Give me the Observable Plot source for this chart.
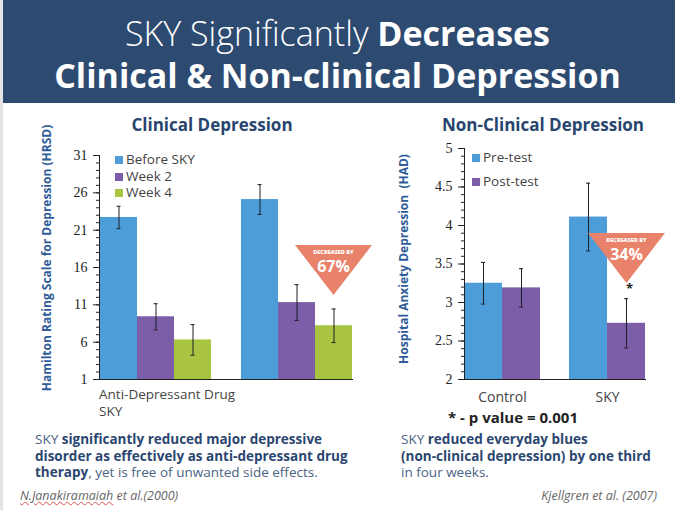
<!DOCTYPE html>
<html><head><meta charset="utf-8">
<script src="https://cdn.jsdelivr.net/npm/d3@7"></script>
<script src="https://cdn.jsdelivr.net/npm/@observablehq/plot@0.6"></script>
<style>
body{margin:0;background:#fff;}
#page{position:relative;width:675px;height:510px;overflow:hidden;background:#fff;font-family:"Open Sans",sans-serif;border-left:3px solid #e4e4e4;box-sizing:border-box;}
#header{position:absolute;left:-3px;top:0;width:675px;height:103px;background:#2d4a71;color:#fff;}
.abs{position:absolute;white-space:nowrap;}
.hl{left:0;width:675px;text-align:center;font-size:34px;line-height:42px;}
.ctitle{font-size:17px;font-weight:700;color:#28456f;text-align:center;width:300px;line-height:22px;}
.leg{font-size:13.5px;color:#444;line-height:16px;}
.sw{display:inline-block;width:8px;height:8px;margin-right:3px;vertical-align:0px;}
.ytitle{font-size:12px;font-weight:700;color:#2e5c99;width:300px;text-align:center;line-height:14px;transform:rotate(-90deg);}
.cat{font-size:13.5px;color:#444;line-height:17px;}
.note{font-size:13.5px;line-height:16.5px;color:#4a6283;}
.note b{color:#2b4670;font-weight:700;}
.cite{font-size:12.5px;font-style:italic;color:#666;line-height:14px;}
.tri{position:absolute;width:77px;height:50px;background:#e9826b;clip-path:polygon(0 0,100% 0,50% 100%);}
.tri .s{position:absolute;left:0;width:77px;text-align:center;color:#fff;font-weight:800;font-size:5.5px;line-height:6px;}
.tri .p{position:absolute;left:0;width:77px;text-align:center;color:#fff;font-weight:700;font-size:16px;line-height:16px;}
</style>
</head><body>
<div id="page">
  <div id="header">
    <div class="abs hl" style="top:12px;"><span style="font-weight:300">SKY Significantly </span><span style="font-weight:700">Decreases</span></div>
    <div class="abs hl" style="top:54px;font-weight:700;">Clinical &amp; Non-clinical Depression</div>
  </div>
  <div class="abs ctitle" style="left:59px;top:114px;">Clinical Depression</div>
  <div class="abs ctitle" style="left:390px;top:114px;">Non-Clinical Depression</div>
  <div id="left" class="abs" style="left:-3px;top:140px;"></div>
  <div id="right" class="abs" style="left:337px;top:140px;"></div>
  <div class="abs ytitle" style="left:-106px;top:251px;">Hamilton Rating Scale for Depression (HRSD)</div>
  <div class="abs ytitle" style="left:251px;top:252px;">Hospital Anxiety Depression&nbsp; (HAD)</div>
  <div id="legL" class="abs leg" style="left:112px;top:151px;"></div>
  <div id="legR" class="abs leg" style="left:469px;top:149px;"></div>
  <div id="catL" class="abs cat" style="left:96px;top:386px;"></div>
  <div class="tri" style="left:292px;top:245px;"><div class="s" style="top:4px;">DECREASED BY</div><div class="p" style="top:13px;">67%</div></div>
  <div class="tri" style="left:585px;top:233px;"><div class="s" style="top:4px;">DECREASED BY</div><div class="p" style="top:13px;">34%</div></div>
  <div class="abs" style="left:623px;top:280px;font-size:13px;font-weight:700;color:#222;line-height:16px;">*</div>
  <div class="abs" style="left:445px;top:408px;font-size:15px;font-weight:700;color:#222;line-height:18px;">* - p value = 0.001</div>
  <div class="abs note" style="left:32px;top:431px;">SKY <b>significantly reduced major depressive</b><br><b>disorder as effectively as anti-depressant drug</b><br><b>therapy</b>, yet is free of unwanted side effects.</div>
  <div class="abs note" style="left:398px;top:431px;">SKY <b>reduced everyday blues</b><br><b>(non-clinical depression) by one third</b><br>in four weeks.</div>
  <div class="abs cite" style="left:17px;top:489px;"><span style="text-decoration:underline wavy #e05050;text-decoration-thickness:1px;">N.Janakiramaiah</span> et al.(2000)</div>
  <div class="abs cite" style="left:454px;width:200px;text-align:right;top:489px;">Kjellgren et al. (2007)</div>
</div>
<script>
// ---- Clinical depression (HRSD) ----
const clinicalGroups = ["Anti-Depressant Drug", "SKY"];
const clinicalSeries = ["Before SKY", "Week 2", "Week 4"];
const drugMeans = [22.7, 9.4, 6.3];
const drugErrors = [1.5, 1.75, 2.05];
const skyClinicalMeans = [25.1, 11.3, 8.2];
const skyClinicalErrors = [2.0, 2.4, 2.25];
const clinicalTicks = [1, 6, 11, 16, 21, 26, 31];
const clinicalColors = ["#4d9dd8", "#7b5ea7", "#a8c440"];

// ---- Non-clinical depression (HAD) ----
const nonClinicalGroups = ["Control", "SKY"];
const nonClinicalSeries = ["Pre-test", "Post-test"];
const controlMeans = [3.25, 3.19];
const controlErrors = [0.27, 0.25];
const skyNonClinicalMeans = [4.11, 2.73];
const skyNonClinicalErrors = [0.44, 0.32];
const nonClinicalTicks = [2, 2.5, 3, 3.5, 4, 4.5, 5];
const nonClinicalColors = ["#4d9dd8", "#7b5ea7"];

const clinicalRows = [
  ...clinicalSeries.map((s, j) => ({group: clinicalGroups[0], series: s, value: drugMeans[j], err: drugErrors[j]})),
  ...clinicalSeries.map((s, j) => ({group: clinicalGroups[1], series: s, value: skyClinicalMeans[j], err: skyClinicalErrors[j]}))
];
const nonClinicalRows = [
  ...nonClinicalSeries.map((s, j) => ({group: nonClinicalGroups[0], series: s, value: controlMeans[j], err: controlErrors[j]})),
  ...nonClinicalSeries.map((s, j) => ({group: nonClinicalGroups[1], series: s, value: skyNonClinicalMeans[j], err: skyNonClinicalErrors[j]}))
];

const ink = "#1e1e28";
const serif = "Liberation Serif";

const left = Plot.plot({
  width: 370, height: 260,
  marginLeft: 85, marginRight: 5, marginTop: 15, marginBottom: 21,
  style: {background: "transparent", fontSize: "13px", color: "#333"},
  fx: {domain: clinicalGroups, paddingInner: 0.2057, paddingOuter: 0.0957, axis: null},
  x: {domain: clinicalSeries, padding: 0, axis: null},
  y: {domain: [1, 31], axis: null},
  color: {domain: clinicalSeries, range: clinicalColors},
  marks: [
    Plot.barY(clinicalRows, {fx: "group", x: "series", y1: 1, y2: "value", fill: "series"}),
    Plot.ruleX(clinicalRows, {fx: "group", x: "series", y1: d => d.value - d.err, y2: d => d.value + d.err, stroke: ink, strokeWidth: 1}),
    Plot.tickY(clinicalRows, {fx: "group", x: "series", y: d => d.value + d.err, stroke: ink, insetLeft: 16.5, insetRight: 16.5}),
    Plot.tickY(clinicalRows, {fx: "group", x: "series", y: d => d.value - d.err, stroke: ink, insetLeft: 16.5, insetRight: 16.5}),
    Plot.axisY({ticks: clinicalTicks, tickSize: 6, tickPadding: 6, label: null, color: "#222", fontSize: 14, fontFamily: serif, tickFormat: d => String(d)}),
    Plot.axisY({ticks: d3.range(1, 32), tickSize: 3, tickFormat: () => "", label: null, color: "#222"}),
    Plot.frame({anchor: "left", facet: "super", stroke: "#222"}),
    Plot.frame({anchor: "bottom", facet: "super", stroke: "#222"})
  ]
});
document.getElementById("left").appendChild(left);

const right = Plot.plot({
  width: 335, height: 280,
  marginLeft: 107, marginRight: 30, marginTop: 8, marginBottom: 41,
  style: {background: "transparent", fontSize: "13px", color: "#333"},
  fx: {domain: nonClinicalGroups, paddingInner: 0.2736, paddingOuter: 0.0708, align: 1, axis: null},
  x: {domain: nonClinicalSeries, padding: 0, axis: null},
  y: {domain: [2, 5], axis: null},
  color: {domain: nonClinicalSeries, range: nonClinicalColors},
  marks: [
    Plot.barY(nonClinicalRows, {fx: "group", x: "series", y1: 2, y2: "value", fill: "series"}),
    Plot.ruleX(nonClinicalRows, {fx: "group", x: "series", y1: d => d.value - d.err, y2: d => d.value + d.err, stroke: ink, strokeWidth: 1}),
    Plot.tickY(nonClinicalRows, {fx: "group", x: "series", y: d => d.value + d.err, stroke: ink, insetLeft: 17, insetRight: 17}),
    Plot.tickY(nonClinicalRows, {fx: "group", x: "series", y: d => d.value - d.err, stroke: ink, insetLeft: 17, insetRight: 17}),
    Plot.axisY({ticks: nonClinicalTicks, tickSize: 6, tickPadding: 6, label: null, color: "#222", fontSize: 14, fontFamily: serif, tickFormat: d => String(d)}),
    Plot.axisY({ticks: d3.range(20, 51).map(d => d / 10), tickSize: 3, tickFormat: () => "", label: null, color: "#222"}),
    Plot.axisFx({anchor: "bottom", tickSize: 0, tickPadding: 13, label: null, fontFamily: "Open Sans", fontSize: 14, color: "#444"}),
    Plot.frame({anchor: "left", facet: "super", stroke: "#222"}),
    Plot.frame({anchor: "bottom", facet: "super", stroke: "#222"})
  ]
});
document.getElementById("right").appendChild(right);

// legends and category labels (HTML)
function legend(el, series, colors, gap) {
  el.innerHTML = series.map((s, i) =>
    `<div style="height:${gap}px"><span class="sw" style="background:${colors[i]}"></span>${s}</div>`).join("");
}
legend(document.getElementById("legL"), clinicalSeries, clinicalColors, 16.5);
legend(document.getElementById("legR"), nonClinicalSeries, nonClinicalColors, 24);
document.getElementById("catL").innerHTML = clinicalGroups.join("<br>");
</script>
</body></html>
